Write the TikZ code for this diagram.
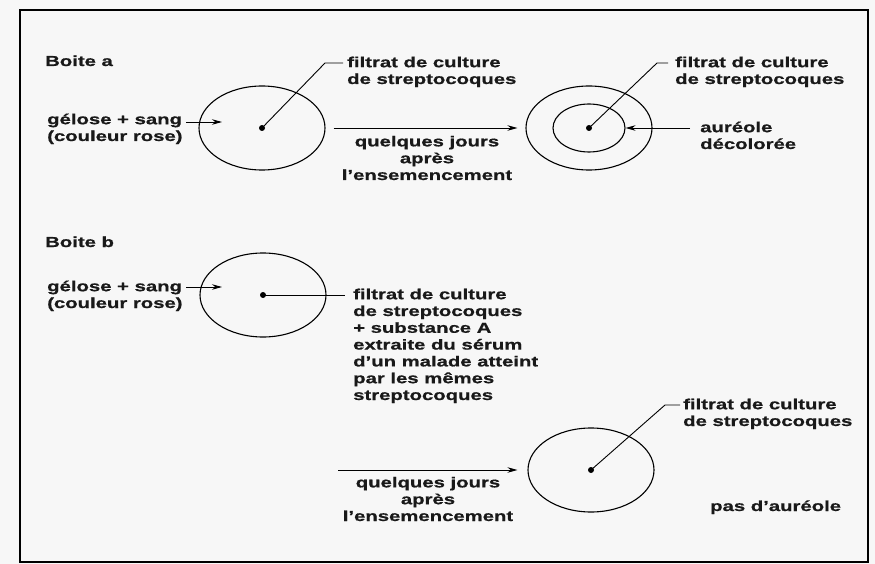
\documentclass[tikz,border=0pt]{standalone}
\usepackage{fontspec}
\setmainfont{Liberation Sans}[FakeStretch=1.4, BoldFeatures={FakeBold=0.7}]
\usetikzlibrary{arrows.meta,shapes.geometric,positioning}

\begin{document}
\begin{tikzpicture}[x=1pt,y=-1pt,
    every node/.style={font=\fontsize{14.5}{16.8}\selectfont\bfseries, text=black!90, inner sep=0pt},
    plate/.style={draw, ellipse, line width=1.1pt, minimum width=126pt, minimum height=84pt},
    halo/.style={draw, ellipse, line width=1.1pt, minimum width=72pt, minimum height=48pt},
    spot/.style={fill, circle, minimum size=6pt},
    lead/.style={line width=0.9pt},
    pointer/.style={line width=0.9pt, -{Stealth[length=10pt,width=5.5pt]}},
    caption/.style={anchor=base west, align=left},
    heading/.style={caption, font=\fontsize{14.5}{16.8}\selectfont\bfseries\addfontfeature{FakeBold=2}},
    delay/.style={anchor=base, align=center}]
\useasboundingbox (0,0) rectangle (875,564);
\fill[black!3] (0,0) rectangle (875,564);
\draw[line width=1.8pt] (20,10) rectangle (868,562);

\node[heading] (boiteA) at (45,66) {Boite a};
\node[caption] (geloseA) at (47,141) {gélose + sang\\(couleur rose)};
\node[plate] (plateA) at (262,128) {};
\node[spot] (spotA) at (plateA.center) {};
\coordinate (kneeA) at (325,63);
\draw[lead] (spotA.center) -- (kneeA) -- ++(18,0);
\node[caption] (filtratA) at (347,84) {filtrat de culture\\de streptocoques};
\coordinate (tailA) at (186,122);
\draw[pointer] (tailA) -- ++(36,0);

\node[plate] (ringA) at (589,128) {};
\node[halo] (haloA) at (ringA.center) {};
\node[spot] (spotA2) at (ringA.center) {};
\draw[pointer] ([xshift=8pt]plateA.east) -- ([xshift=-8pt]ringA.west);
\node[delay] (laterA) at (427,180) {quelques jours\\après\\l’ensemencement};
\coordinate (kneeA2) at (657,63);
\draw[lead] (spotA2.center) -- (kneeA2) -- ++(11,0);
\node[caption] (filtratA2) at (675,84) {filtrat de culture\\de streptocoques};
\coordinate (auraTail) at (690,128);
\draw[pointer] (auraTail) -- (haloA.east);
\node[caption] (aura) at (700,149) {auréole\\décolorée};

\node[heading] (boiteB) at (45,247) {Boite b};
\node[caption] (geloseB) at (47,308) {gélose + sang\\(couleur rose)};
\node[plate] (plateB) at (263,295) {};
\node[spot] (spotB) at (plateB.center) {};
\coordinate (tailB) at (186,287);
\draw[pointer] (tailB) -- ++(36,0);
\coordinate (endB) at (345,295);
\draw[lead] (spotB.center) -- (endB);
\node[caption] (filtratB) at (353,400) {filtrat de culture\\de streptocoques\\+ substance A\\extraite du sérum\\d’un malade atteint\\par les mêmes\\streptocoques};

\node[plate] (ringB) at (591,470) {};
\node[spot] (spotB2) at (ringB.center) {};
\coordinate (tailB2) at (338,470);
\draw[pointer] (tailB2) -- ([xshift=-10pt]ringB.west);
\node[delay] (laterB) at (428,521) {quelques jours\\après\\l’ensemencement};
\coordinate (kneeB2) at (665,405);
\draw[lead] (spotB2.center) -- (kneeB2) -- ++(15,0);
\node[caption] (filtratB2) at (683,426) {filtrat de culture\\de streptocoques};
\node[caption] (noAura) at (710,511) {pas d’auréole};
\end{tikzpicture}
\end{document}
